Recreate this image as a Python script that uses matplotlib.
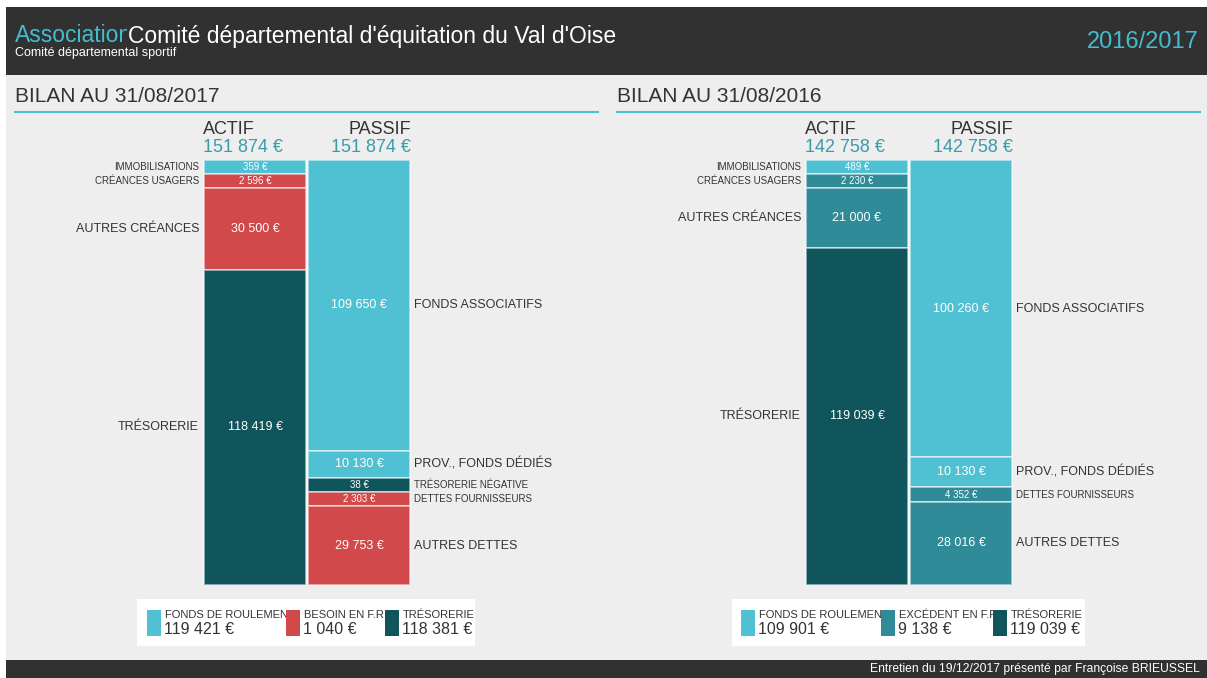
import numpy as np
import matplotlib.pyplot as plt
from matplotlib.patches import Rectangle
from matplotlib.transforms import blended_transform_factory

plt.rcParams['font.family'] = ['Liberation Sans', 'DejaVu Sans']

W, H = 1207, 678
CYAN = '#4fc1d2'
RED = '#d2494b'
DARK = '#10545c'
MID = '#308b98'
TXT = '#333333'
TOTC = '#3a9bab'

# --- bilan 2017 ---
actif17_lab = ["IMMOBILISATIONS", "CRÉANCES USAGERS", "AUTRES CRÉANCES", "TRÉSORERIE"]
actif17_val = [359, 2596, 30500, 118419]
actif17_col = [CYAN, RED, RED, DARK]
passif17_lab = ["FONDS ASSOCIATIFS", "PROV., FONDS DÉDIÉS", "TRÉSORERIE NÉGATIVE",
                "DETTES FOURNISSEURS", "AUTRES DETTES"]
passif17_val = [109650, 10130, 38, 2303, 29753]
passif17_col = [CYAN, CYAN, DARK, RED, RED]
leg17_lab = ["FONDS DE ROULEMENT", "BESOIN EN F.R.", "TRÉSORERIE"]
leg17_val = [119421, 1040, 118381]
leg17_col = [CYAN, RED, DARK]

# --- bilan 2016 ---
actif16_lab = ["IMMOBILISATIONS", "CRÉANCES USAGERS", "AUTRES CRÉANCES", "TRÉSORERIE"]
actif16_val = [489, 2230, 21000, 119039]
actif16_col = [CYAN, MID, MID, DARK]
passif16_lab = ["FONDS ASSOCIATIFS", "PROV., FONDS DÉDIÉS", "DETTES FOURNISSEURS", "AUTRES DETTES"]
passif16_val = [100260, 10130, 4352, 28016]
passif16_col = [CYAN, CYAN, MID, MID]
leg16_lab = ["FONDS DE ROULEMENT", "EXCÉDENT EN F.R.", "TRÉSORERIE"]
leg16_val = [109901, 9138, 119039]
leg16_col = [CYAN, MID, DARK]


def eur(v):
    return f"{v:,}".replace(",", " ") + " €"


def disp(vals, total):
    # small items get a minimum height, the rest is squeezed to fit
    d = np.maximum(np.array(vals, float), 0.035 * total)
    return d * total / d.sum()


fig = plt.figure(figsize=(W / 100, H / 100), dpi=100, facecolor='white')
bg = fig.add_axes([0, 0, 1, 1])
bg.set_xlim(0, W)
bg.set_ylim(H, 0)
bg.axis('off')

bg.add_patch(Rectangle((6, 75), W - 6, 585, fc='#eeeeee', ec='none'))
bg.add_patch(Rectangle((6, 7), W - 6, 68, fc='#313131', ec='none'))
bg.add_patch(Rectangle((6, 660), W - 6, 18, fc='#313131', ec='none'))

t = bg.text(15, 36, "Association", color='#45bccd', fontsize=16.5, va='center', clip_on=True)
t.set_clip_path(Rectangle((0, 0), 127, 80, transform=bg.transData))
bg.text(128, 36, "Comité départemental d'équitation du Val d'Oise", color='white',
        fontsize=16.5, va='center')
bg.text(15, 53, "Comité départemental sportif", color='white', fontsize=9, va='center')
bg.text(1199, 42, "2016/2017", color='#45bccd', fontsize=17, va='center', ha='right')
bg.text(1200, 669, "Entretien du 19/12/2017 présenté par Françoise BRIEUSSEL",
        color='white', fontsize=8.7, va='center', ha='right')


def panel(x0, title, a_lab, a_val, a_col, p_lab, p_val, p_col,
          l_lab, l_val, l_col, box, sw_x):
    bx = x0 + 188  # left edge of the actif bar
    bg.text(x0, 97, title, color=TXT, fontsize=15, va='center')
    bg.plot([x0, x0 + 583], [112, 112], color=CYAN, lw=1.5)

    total = sum(a_val)
    bg.text(bx, 130, "ACTIF", color=TXT, fontsize=13, va='center')
    bg.text(bx, 147, eur(sum(a_val)), color=TOTC, fontsize=13, va='center')
    bg.text(bx + 208, 130, "PASSIF", color=TXT, fontsize=13, va='center', ha='right')
    bg.text(bx + 208, 147, eur(sum(p_val)), color=TOTC, fontsize=13, va='center', ha='right')

    ax = fig.add_axes([bx / W, 1 - 585 / H, 208 / W, 425 / H])
    ax.set_xlim(-0.5, 1.5)
    ax.set_ylim(total, 0)
    ax.axis('off')
    tr = blended_transform_factory(bg.transData, ax.transData)

    for xi, lab, val, col, side in [(0, a_lab, a_val, a_col, 'l'), (1, p_lab, p_val, p_col, 'r')]:
        d = disp(val, total)
        bot = np.cumsum(d) - d
        ax.bar(xi, d, bottom=bot, width=0.99, color=col,
               edgecolor=(1, 1, 1, 0.6), linewidth=1.2)
        for name, v, b, h in zip(lab, val, bot, d):
            big = v / total > 0.05
            fs = 9 if big else 7
            ax.text(xi, b + h / 2, eur(v), color='white', fontsize=fs, ha='center', va='center')
            if side == 'l':
                bg.text(bx - 4, b + h / 2, name, transform=tr, color=TXT, fontsize=fs,
                        ha='right', va='center')
            else:
                bg.text(bx + 211, b + h / 2, name, transform=tr, color=TXT, fontsize=fs,
                        ha='left', va='center')

    # legend box
    bx0, bx1 = box
    bg.add_patch(Rectangle((bx0, 599), bx1 - bx0, 47, fc='white', ec='none'))
    edges = list(sw_x[1:]) + [bx1]
    for sx, right, lab, val, col in zip(sw_x, edges, l_lab, l_val, l_col):
        bg.add_patch(Rectangle((sx, 610), 14, 26, fc=col, ec='none'))
        clip = Rectangle((sx + 17, 600), right - sx - 17, 45, transform=bg.transData)
        t1 = bg.text(sx + 18, 615, lab, color=TXT, fontsize=8, va='center', clip_on=True)
        t2 = bg.text(sx + 17, 629, eur(val), color=TXT, fontsize=11.5, va='center', clip_on=True)
        t1.set_clip_path(clip)
        t2.set_clip_path(clip)


panel(15, "BILAN AU 31/08/2017", actif17_lab, actif17_val, actif17_col,
      passif17_lab, passif17_val, passif17_col, leg17_lab, leg17_val, leg17_col,
      (137, 475), (147, 286, 385))
panel(617, "BILAN AU 31/08/2016", actif16_lab, actif16_val, actif16_col,
      passif16_lab, passif16_val, passif16_col, leg16_lab, leg16_val, leg16_col,
      (732, 1085), (741, 881, 993))

fig.savefig("out.png", dpi=100, facecolor='white')
